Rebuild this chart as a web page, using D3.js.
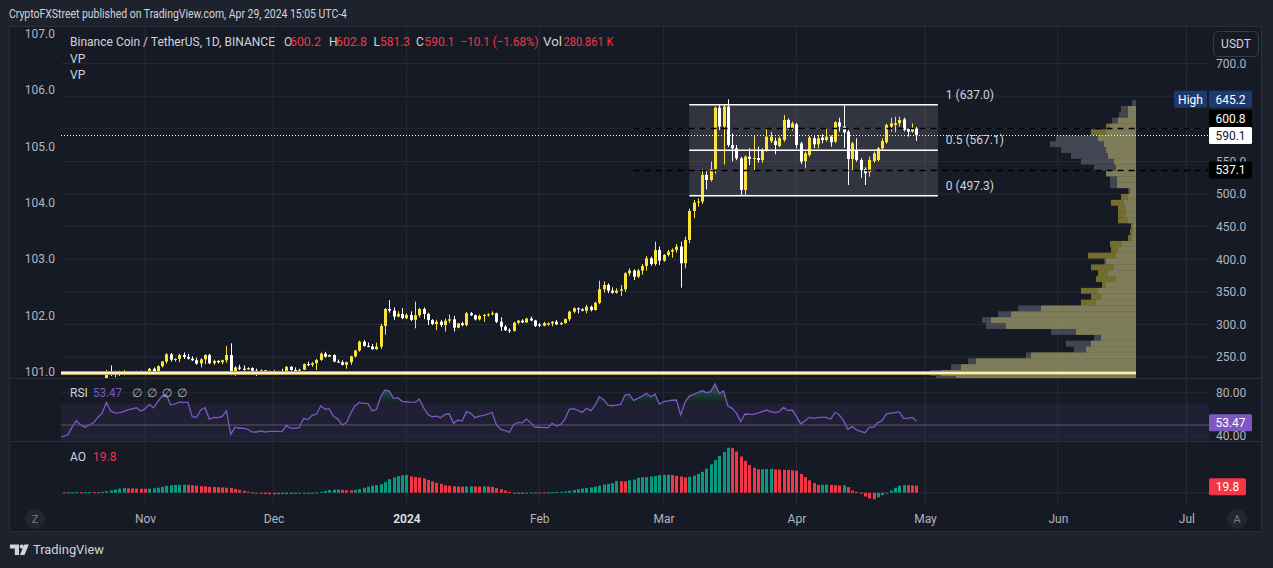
<!DOCTYPE html>
<html><head><meta charset="utf-8">
<script src="https://cdn.jsdelivr.net/npm/d3@7"></script>
<style>
html,body{margin:0;padding:0;background:#1e222d;}
svg{display:block;}
text{font-family:Roboto,"Liberation Sans",Arial,sans-serif;}
</style></head><body>
<svg id="c" width="1273" height="568"></svg>
<script>
// ---------------- DATA ----------------
const startDate = "2023-10-12"; // first daily candle
const opens = [
212,205,208,210,211,214,213,211,212,214,
216,214,228,223,227,225.5,227.5,226,227,228,
225,228,232,226.5,236,243,254,246,247,253,
250,247.5,245,240,246.5,253,240.5,244,242,245,
253,224,234,232,231,233,229,223,229.5,228,
228.5,226.5,228,227,235,230,229.5,230.5,239,238,
240.5,245.5,255,250.5,253,243,242,238,242,251,
260,273.5,267,266,262,266,297.6,323.6,321,312,
316,309.5,314.5,307,314,323.6,316,306.7,300.6,304,
299,305.7,307.8,295,301.6,299,317,314,307.7,313,
314.5,315.5,317,304,296.5,291,290,302.7,305.7,303,
309,306,300,298,299.5,301.5,304,300,302,308,
319.5,324.6,323,321,327,322,333,354,360.5,351.8,
348.7,351.8,353.8,378.4,382.5,373.3,382.5,389.6,401.4,392.7,
414.2,397.8,406.5,411.6,414.2,419.3,393.7,429.5,474,486.8,
488.3,529.2,521.5,538.4,632.4,603.3,634,575.2,570,554.7,
506.2,557.3,553.7,555.2,552.2,567.5,581,581.3,573.6,582.8,
613.5,599.7,606.9,577.7,550.6,559.9,585.4,576.2,586.4,582.8,
588,580.3,610,603.3,595.6,553.7,567.5,552.2,538.4,533.3,
550.6,552.2,570,579.3,603.3,605.9,608.4,614.5,599.7,595.6,
600.2];
const highs = [
213,209,211,212,216,216,214,213,215,217,
217,230,237,229,229,230,228.5,228.5,229,229,
229,233,234,237,244,256,256,248,255,257,
255,251,249,248,254,255,246,245,246,267,
271,236,238,237,234.5,234,232,231,230,229.5,
230,229,232,236,236,234,232,240,243,242,
247,257,258,254,254,246,245,243,252,261,
275,276,272,270,272,301,325,337,326,320,
325,317,320,335,325,326,318,308,307,307,
309,315,313,302,304,319,319,315,315,316,
317,320,318,311,299,294,304,307,308,310,
312,307,302,304,303,305,307,304,309,321,
326,326,325,330,329,335,367,366,363,357,
355.4,360.5,380,386,384.5,385,392.7,405,404,427,
419.3,408,414.2,416.7,423.4,427,434.6,477.5,490.8,493.4,
538.4,534.3,549.6,634,636,637,645.2,593,575,557,
559,570,589.5,572.6,570,600.7,595.6,586.4,588,621.2,
616,611,609,580,565,589,590.5,590.5,591.5,600.7,
590,612,617,635.5,598,580,585.4,555,541,557.3,
565,572,585.4,608,617,618.6,618.6,617,601,608.4,
602.8];
const lows = [
203,204,207,209,210,211,209,208,211,213,
212,213,221,219,221,222,224,225,225,224,
222,226,225,226,234,240,243,243,242,247,
246,244,238,234,239,239,238,240,239,241,
222,221,230,229,230,228,221,222,226,226,
225,226,226,226,229,228,228,230,236,235,
230,244,249,250,242,241,237,232,238,249,
258,266,265,261,261,262,284,318,307,311,
308,308,305,294,311,308,299,299,291,296,
289,302,289,294,297,297,313,306,306,304,
312,314,302,290,290,287,289,300,302,302,
305,296,296,297,298,297,299,299,301,305,
317,317,320,317,320,321,331,349,348,347,
347,343.6,350,374.3,368.2,371,376,382.5,390,390,
391.2,396,404,402.4,410,356.4,386,424.4,462.7,480.6,
484.7,507.2,519,531,598,545,572,550,552,498.5,
497,544.5,536.8,548,548,565,578,560.9,572,580,
598,597,570,546,539.4,557,570,570,577.7,580.3,
572.6,578,595.6,571.1,513.8,536.8,549.6,525.1,513.8,526.6,
548,550,568,577,595.6,594.6,603.3,596,588,594,
581.3];
const closes = [
205,208,210,211,214,213,211,212,214,216,
214,228,223,227,225.5,227.5,226,227,228,225,
228,232,226.5,236,243,254,246,247,253,250,
247.5,245,240,246.5,253,240.5,244,242,245,253,
224,234,232,231,233,229,223,229.5,228,228.5,
226.5,228,227,235,230,229.5,230.5,239,238,240.5,
245.5,255,250.5,253,243,242,238,242,251,260,
273.5,267,266,262,266,297.6,323.6,321,312,316,
309.5,314.5,307,314,323.6,316,306.7,300.6,304,299,
305.7,307.8,295,301.6,299,317,314,307.7,313,314.5,
315.5,317,304,296.5,291,290,302.7,305.7,303,309,
306,297.6,298,302,301.5,304,300,302,308,319.5,
324.6,323,321,327,322,333,354,360.5,351.8,348.7,
351.8,353.8,378.4,382.5,373.3,382.5,389.6,401.4,392.7,414.2,
397.8,406.5,411.6,414.2,419.3,393.7,429.5,474,486.8,488.3,
529.2,521.5,538.4,632.4,603.3,634,575.2,570,554.7,506.2,
557.3,553.7,555.2,552.2,567.5,588,588,575.2,585.4,613.5,
600.7,608.4,575.2,549.6,562.4,586.4,576.2,585.4,582.8,588,
579.3,610,603.3,594.6,553.7,577.7,552.2,536.8,531.7,552.2,
562.4,570,581.3,605.9,608.4,608.4,613.5,598.2,595.6,600.2,
590.1];
const rsiValues = [
39,39.5,41,48,54,50,48,50,52,57,
61,71,63,61,61.5,62.5,64,65,66,63,
65,69,66,72,77,78,68.5,69.5,71.5,71,
71,58,57,64,66,55.5,57,56.8,58,63,
41.3,48,47,47,46,43.5,43.5,44.5,43.5,44,
44,44,43.8,49.7,46.9,47,47.5,56,55,59,
60,67.6,64.8,65,58,55.5,50,52,60.8,68,
71,70.1,70,63,64.5,76.3,82.5,81.5,74.7,75.4,
72,71.6,71.2,71,74.1,66,60,57.7,58.3,56.8,
59.9,60.2,51.5,54.6,53.7,62.4,60.8,56.8,58.3,59,
60,61.7,50,46,44.7,43.2,50,52.5,52,55.5,
52,47.8,48.1,47.5,47.5,51.5,49,50.6,55.5,64.5,
65.1,63.6,61.7,65.5,63.3,67.9,76.3,73.8,68.5,67.9,
68.5,69.2,77.8,78.4,72.9,74.7,76.9,79.4,76.3,78.8,
69.5,71.7,72.5,73,73.2,59.3,71,76.9,78.5,80,
82,80,81,88.1,79.4,81.6,67.6,65.5,61,53.1,
60.2,60,59.9,61,62.4,63.9,62.5,61.5,62.4,66.4,
63.3,63.9,58,51,54,57.1,56.2,56.8,57.1,57.1,
55.3,61.8,59.3,54,46,48.5,45.4,44,42.9,47.8,
47.8,52.2,54,60.2,61,61.5,62.1,56.2,56.2,57.1,
53.47];
const aoValues = [
0.8,0.5,0.8,1.0,1.2,1.1,1.3,1.5,1.4,1.0,
2.5,4.5,6.5,9,11.5,13,12.2,11.8,11.5,11.3,
11,11.5,12.5,14,16.5,19.5,21,22,22.3,22.6,
22,21,20,18.5,17.8,16.5,16,15.5,14.8,14,
13,10.5,8,5.5,3,0.5,-1.5,-3,-4,-4.5,
-5,-4.5,-4,-3.8,-3.5,-3.2,-2.8,-2.2,-1.5,-0.8,
0.5,2.5,5,7.5,8.5,9,8,7,6.8,8,
10,14,17,20,21.5,24,30,38,43,47,
49,50.5,46,44.5,43,40,36,32,28,25,
21,19.5,18,17.5,17,17.5,18,17.5,17.3,17.6,
17.4,16.5,13,10,6,2,-1.5,-3,-3.2,-1.5,
0.5,0.8,0.7,0.6,1.0,1.5,1.8,2.5,3.5,5.5,
7.5,10,12,13.5,15,17,20,23,25,27,
33,32.5,32,35,37,42,43.5,44,45.5,47,
50,50.2,50.4,50,47.5,45.5,43,45,48,53,
59,68,80,92,104,115,127,126,116,102,
90,78,70.5,66,66.5,67,67.2,65.5,65,64.5,
64,63,62,53,44,35,27,22,22.5,23,
22,21.5,20.5,21,16,6,2,-3,-11,-16,
-18.5,-13,-7,0,6,14,20,21.5,21,20.5,
19.8];

const monthTicks = ["2023-11-01","2023-12-01","2024-01-01","2024-02-01","2024-03-01","2024-04-01","2024-05-01","2024-06-01","2024-07-01"];
const monthLabels = ["Nov","Dec","2024","Feb","Mar","Apr","May","Jun","Jul"];
const priceTicks = [250,300,350,400,450,500,550,600,650,700];
const priceTickLabels = [250,300,350,400,450,500,550,700]; // 600 and 650 sit under the price tags
const leftTicks = [101,102,103,104,105,106,107];
const rsiTicks = [80,40];

// Volume profile (two overlaid profiles), price bins of 9 USDT
const vpBinLows = [212,221,230,239,248,257,266,275,284,293,302,311,320,329,338,347,356,365,374,383,392,401,410,419,428,437,446,455,464,473,482,491,500,509,518,527,536,545,554,563,572,581,590,599,608,617,626,635];
const vpBinSize = 9;
const vpYellow = [180,195,175,160,105,50,45,35,60,130,145,125,95,55,45,55,34,40,38,45,30,48,25,26,8,6,5,18,18,18,25,15,6,19,19,30,20,22,28,30,32,38,45,30,18,8,8,0];
const vpGray   = [200,206,185,168,110,62,70,42,85,150,154,138,118,40,35,38,30,20,28,22,32,20,18,14,4,3,3,8,10,10,12,8,8,26,26,30,42,55,65,75,86,80,30,26,24,17,15,4];
const pocPrice = 225.5;

const fibLevels = ["1","0.5","0"];
const fibPrices = [637.0, 567.1, 497.3];
const fibStart = "2024-03-07", fibEnd = "2024-05-04";
const vaLines = [600.8, 537.1];
const vaStart = "2024-02-23";
const lastPrice = 590.1, highPrice = 645.2, lastRsi = 53.47, lastAo = 19.8;

// ---------------- CHART ----------------
const svg = d3.select("#c");
const PL = 61, PR = 1209;
const mainTop = 27, mainBot = 378, rsiBot = 441, aoBot = 505;
const gridC = "#262a35", axisC = "#b2b5be", textC = "#d1d4dc";
const upC = "#fbe43a", dnC = "#ffffff", red = "#f23645", green = "#089981", purple = "#7e57c2";

const parse = d3.utcParse("%Y-%m-%d");
const start = parse(startDate);
const dates = closes.map((_, i) => d3.utcDay.offset(start, i));

const x = d3.scaleUtc().domain([parse("2023-11-01"), parse("2024-05-01")]).range([145, 925]);
const y = d3.scaleLinear().domain([250, 700]).range([357, 63.6]);
const yLeft = d3.scaleLinear().domain([101, 107]).range([371.5, 33.7]);
const yRsi = d3.scaleLinear().domain([50, 80]).range([425, 392.7]);
const yAo = d3.scaleLinear().domain([0, 127]).range([492.7, 447.7]);
const vpW = d3.scaleLinear().domain([0, 206]).range([0, 206]);
const vpRight = 1136;

svg.append("rect").attr("width", 1273).attr("height", 568).attr("fill", "#1e222d");
svg.append("rect").attr("x", 9.5).attr("y", 26.5).attr("width", 1252).attr("height", 505)
  .attr("fill", "#161a25").attr("stroke", "#2a2e39");

const defs = svg.append("defs");
function clip(id, y0, y1) {
  defs.append("clipPath").attr("id", id).append("rect")
    .attr("x", PL).attr("y", y0).attr("width", PR - PL).attr("height", y1 - y0);
}
clip("cm", mainTop, mainBot); clip("cr", mainBot, rsiBot); clip("ca", rsiBot, aoBot);
const grad = defs.append("linearGradient").attr("id", "ob").attr("x1", 0).attr("x2", 0)
  .attr("gradientUnits", "userSpaceOnUse").attr("y1", yRsi(90)).attr("y2", yRsi(70));
grad.append("stop").attr("offset", 0).attr("stop-color", "#26a65b").attr("stop-opacity", 0.55);
grad.append("stop").attr("offset", 1).attr("stop-color", "#26a65b").attr("stop-opacity", 0.05);

// vertical grid
const mt = monthTicks.map(parse);
svg.append("g").selectAll("line").data(mt).join("line")
  .attr("x1", d => x(d)).attr("x2", d => x(d)).attr("y1", mainTop).attr("y2", aoBot)
  .attr("stroke", gridC);
// horizontal grid main
svg.append("g").selectAll("line").data(priceTicks).join("line")
  .attr("x1", PL).attr("x2", PR).attr("y1", d => y(d)).attr("y2", d => y(d)).attr("stroke", gridC);

// pane separators
[mainBot, rsiBot].forEach(v => svg.append("line").attr("x1", 10).attr("x2", 1261)
  .attr("y1", v + 0.5).attr("y2", v + 0.5).attr("stroke", "#2a2e39"));

// ---- main pane
const gm = svg.append("g").attr("clip-path", "url(#cm)");
// fib box
const fx0 = x(parse(fibStart)), fx1 = x(parse(fibEnd));
gm.append("rect").attr("x", fx0).attr("y", y(fibPrices[0])).attr("width", fx1 - fx0)
  .attr("height", y(fibPrices[2]) - y(fibPrices[0])).attr("fill", "rgba(255,255,255,0.12)");

// volume profile
const vpData = vpBinLows.map((lo, i) => ({ lo, yv: vpYellow[i], gv: vpGray[i] }));
gm.append("g").selectAll("rect").data(vpData).join("rect")
  .attr("x", d => vpRight - vpW(d.yv)).attr("width", d => vpW(d.yv))
  .attr("y", d => y(d.lo + vpBinSize)).attr("height", d => y(d.lo) - y(d.lo + vpBinSize))
  .attr("fill", "rgba(255,235,59,0.40)");
gm.append("g").selectAll("rect").data(vpData).join("rect")
  .attr("x", d => vpRight - vpW(d.gv)).attr("width", d => vpW(d.gv))
  .attr("y", d => y(d.lo + vpBinSize)).attr("height", d => y(d.lo) - y(d.lo + vpBinSize))
  .attr("fill", "rgba(150,154,170,0.35)");

// candles
const candles = dates.map((d, i) => ({ d, o: opens[i], h: highs[i], l: lows[i], c: closes[i] }));
const cg = gm.append("g");
cg.selectAll("line").data(candles).join("line")
  .attr("x1", d => Math.round(x(d.d)) + 0.5).attr("x2", d => Math.round(x(d.d)) + 0.5)
  .attr("y1", d => y(d.h)).attr("y2", d => y(d.l))
  .attr("stroke", d => d.c >= d.o ? upC : dnC);
cg.selectAll("rect").data(candles).join("rect")
  .attr("x", d => Math.round(x(d.d)) - 1).attr("width", 3)
  .attr("y", d => y(Math.max(d.o, d.c)))
  .attr("height", d => Math.max(1, Math.abs(y(d.o) - y(d.c))))
  .attr("fill", d => d.c >= d.o ? upC : dnC);

// POC line
gm.append("line").attr("x1", PL).attr("x2", vpRight).attr("y1", y(pocPrice)).attr("y2", y(pocPrice))
  .attr("stroke", "#b7a24a").attr("stroke-width", 4);
gm.append("line").attr("x1", PL).attr("x2", vpRight).attr("y1", y(pocPrice)).attr("y2", y(pocPrice))
  .attr("stroke", "#f6eed6").attr("stroke-width", 2);

// fib lines
gm.append("g").selectAll("line").data(fibPrices).join("line")
  .attr("x1", fx0).attr("x2", fx1).attr("y1", d => y(d)).attr("y2", d => y(d))
  .attr("stroke", "#ffffff").attr("stroke-width", 1.5);
// value-area dashed lines
const vx0 = x(parse(vaStart));
gm.append("g").selectAll("line").data(vaLines).join("line")
  .attr("x1", vx0).attr("x2", PR).attr("y1", d => Math.round(y(d)) + 0.5).attr("y2", d => Math.round(y(d)) + 0.5)
  .attr("stroke", "#000000").attr("stroke-width", 1.5).attr("stroke-dasharray", "6,5");
// last price dotted
gm.append("line").attr("x1", PL).attr("x2", PR)
  .attr("y1", Math.round(y(lastPrice)) + 0.5).attr("y2", Math.round(y(lastPrice)) + 0.5)
  .attr("stroke", "#ffffff").attr("stroke-dasharray", "1,2");

// fib labels
svg.append("g").selectAll("text").data(fibPrices).join("text")
  .attr("x", fx1 + 8).attr("y", d => y(d) - 10).attr("dy", "0.35em")
  .attr("fill", textC).attr("font-size", 12)
  .text((d, i) => `${fibLevels[i]} (${d.toFixed(1)})`);

// ---- RSI pane
const gr = svg.append("g").attr("clip-path", "url(#cr)");
gr.append("rect").attr("x", PL).attr("width", PR - PL).attr("y", yRsi(70)).attr("height", yRsi(30) - yRsi(70))
  .attr("fill", "rgba(126,87,194,0.10)");
gr.selectAll("line.g").data(rsiTicks).join("line").attr("class", "g")
  .attr("x1", PL).attr("x2", PR).attr("y1", d => yRsi(d)).attr("y2", d => yRsi(d)).attr("stroke", gridC);
gr.append("line").attr("x1", PL).attr("x2", PR).attr("y1", yRsi(50)).attr("y2", yRsi(50))
  .attr("stroke", "#787b86").attr("stroke-opacity", 0.6);
const rsiData = dates.map((d, i) => ({ d, v: rsiValues[i] }));
gr.append("path").datum(rsiData)
  .attr("d", d3.area().x(d => x(d.d)).y0(yRsi(70)).y1(d => yRsi(Math.max(70, d.v))))
  .attr("fill", "url(#ob)");
gr.append("path").datum(rsiData)
  .attr("d", d3.line().x(d => x(d.d)).y(d => yRsi(d.v)))
  .attr("fill", "none").attr("stroke", purple).attr("stroke-width", 1.3);

// ---- AO pane
const ga = svg.append("g").attr("clip-path", "url(#ca)");
ga.append("line").attr("x1", PL).attr("x2", PR).attr("y1", yAo(0)).attr("y2", yAo(0)).attr("stroke", gridC);
const aoData = dates.map((d, i) => ({ d, v: aoValues[i], up: i > 0 && aoValues[i] >= aoValues[i - 1] }));
ga.selectAll("rect").data(aoData).join("rect")
  .attr("x", d => Math.round(x(d.d)) - 1).attr("width", 3)
  .attr("y", d => Math.min(yAo(0), yAo(d.v)))
  .attr("height", d => Math.max(1, Math.abs(yAo(d.v) - yAo(0))))
  .attr("fill", d => d.up ? green : red);

// ---- axes
const fontFam = "Roboto,'Liberation Sans',sans-serif";
const ra = svg.append("g").attr("transform", `translate(${PR},0)`)
  .call(d3.axisRight(y).tickValues(priceTickLabels).tickFormat(d3.format(".1f")).tickSize(0).tickPadding(7));
ra.select(".domain").remove();
ra.selectAll("text").attr("fill", axisC).attr("font-size", 12).attr("font-family", fontFam);

const la = svg.append("g").attr("transform", `translate(${PL},0)`)
  .call(d3.axisLeft(yLeft).tickValues(leftTicks).tickFormat(d3.format(".1f")).tickSize(0).tickPadding(6));
la.select(".domain").remove();
la.selectAll("text").attr("fill", axisC).attr("font-size", 12).attr("font-family", fontFam);

const rr = svg.append("g").attr("transform", `translate(${PR},0)`)
  .call(d3.axisRight(yRsi).tickValues(rsiTicks).tickFormat(d3.format(".2f")).tickSize(0).tickPadding(7));
rr.select(".domain").remove();
rr.selectAll("text").attr("fill", axisC).attr("font-size", 12).attr("font-family", fontFam);

const xa = svg.append("g").attr("transform", `translate(0,${aoBot})`)
  .call(d3.axisBottom(x).tickValues(mt).tickFormat((d, i) => monthLabels[i]).tickSize(0).tickPadding(9));
xa.select(".domain").remove();
xa.selectAll("text").attr("fill", (d, i) => monthLabels[i] === "2024" ? "#e0e3eb" : axisC)
  .attr("font-size", 12).attr("font-weight", (d, i) => monthLabels[i] === "2024" ? 600 : 400)
  .attr("font-family", fontFam);

// ---- right-axis price labels
function tag(x0, yc, w, bg, fg, txt) {
  svg.append("rect").attr("x", x0).attr("y", yc - 8.5).attr("width", w).attr("height", 17).attr("rx", 1.5).attr("fill", bg);
  svg.append("text").attr("x", x0 + w / 2).attr("y", yc).attr("dy", "0.35em").attr("text-anchor", "middle")
    .attr("fill", fg).attr("font-size", 12).text(txt);
}
tag(1174, 99.3, 33, "#1d3a70", "#ffffff", "High");
tag(1209, 99.3, 43, "#1d3a70", "#ffffff", highPrice.toFixed(1));
tag(1209, 118.5, 43, "#000000", "#ffffff", vaLines[0].toFixed(1));
tag(1209, 135.6, 43, "#ffffff", "#131722", lastPrice.toFixed(1));
tag(1209, 170, 43, "#000000", "#ffffff", vaLines[1].toFixed(1));
tag(1209, 422.8, 43, purple, "#ffffff", lastRsi.toFixed(2));
tag(1209, 486.7, 37, red, "#ffffff", lastAo.toFixed(1));

// USDT button
svg.append("rect").attr("x", 1213.5).attr("y", 31.5).attr("width", 45).attr("height", 25).attr("rx", 4)
  .attr("fill", "#161a25").attr("stroke", "#363a45");
svg.append("text").attr("x", 1236).attr("y", 44).attr("dy", "0.35em").attr("text-anchor", "middle")
  .attr("fill", textC).attr("font-size", 12).text("USDT");

// Z / A buttons
[[35, "Z"], [1237, "A"]].forEach(([cx, tt]) => {
  svg.append("circle").attr("cx", cx).attr("cy", 519).attr("r", 10).attr("fill", "#22262f");
  svg.append("text").attr("x", cx).attr("y", 519).attr("dy", "0.35em").attr("text-anchor", "middle")
    .attr("fill", "#787b86").attr("font-size", 11).text(tt);
});

// ---- legends
function t(xp, yp, s, col, opts = {}) {
  const e = svg.append("text").attr("x", xp).attr("y", yp).attr("dy", "0.35em").attr("fill", col)
    .attr("font-size", opts.fs || 12).text(s);
  if (opts.len) e.attr("textLength", opts.len).attr("lengthAdjust", "spacingAndGlyphs");
  return e;
}
t(9, 14, "CryptoFXStreet published on TradingView.com, Apr 29, 2024 15:05 UTC-4", textC, { len: 338, fs: 12.5 });
t(70, 42, "Binance Coin / TetherUS, 1D, BINANCE", textC, { len: 205 });
t(284, 42, "O", textC); t(290, 42, opens[opens.length - 1].toFixed(1), red, { len: 31 });
t(329, 42, "H", textC); t(336, 42, highs[highs.length - 1].toFixed(1), red, { len: 31 });
t(373.5, 42, "L", textC); t(380, 42, lows[lows.length - 1].toFixed(1), red, { len: 30 });
t(416, 42, "C", textC); t(424.5, 42, closes[closes.length - 1].toFixed(1), red, { len: 30 });
t(460.5, 42, "\u221210.1 (\u22121.68%)", red, { len: 78 });
t(543, 42, "Vol", textC, { len: 19 }); t(563.5, 42, "280.861 K", red, { len: 50 });
t(70, 58.5, "VP", textC); t(70, 75, "VP", textC);
t(70, 392.5, "RSI", textC); t(93, 392.5, lastRsi.toFixed(2), purple, { len: 29 });
[132, 147, 162, 177].forEach(xx => t(xx, 392.5, "\u2205", axisC));
t(70, 457, "AO", textC); t(93, 457, lastAo.toFixed(1), red);

// ---- footer logo
const lg = svg.append("g").attr("fill", textC);
lg.append("path").attr("d", "M10,544.5 h9 v10.5 h-4.2 v-6.5 h-4.8 z");
lg.append("circle").attr("cx", 21.8).attr("cy", 546.6).attr("r", 2.1);
lg.append("path").attr("d", "M24.3,544.5 h4.6 l-4.4,10.5 h-4.6 z");
t(33, 549.5, "TradingView", textC, { fs: 13.5, len: 71 });
</script></body></html>
